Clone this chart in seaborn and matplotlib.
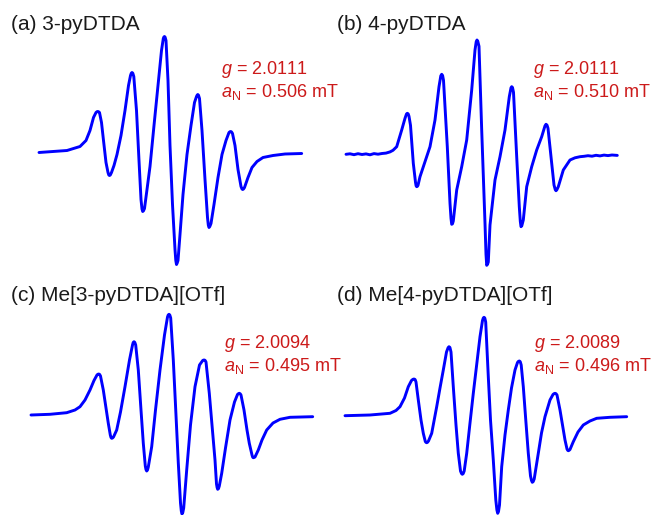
import matplotlib
matplotlib.use("Agg")
import matplotlib.pyplot as plt
import seaborn as sns

# EPR spectra: field offset (a.u.) vs derivative signal (a.u.)
field_a = [-131, -103, -90, -84, -80, -76.5, -74, -73, -72.3, -71.5, -70.5, -68.5, -66.5, -64, -62,
           -61.2, -60.5, -59.7, -58.5, -56, -53, -49, -45, -41.5, -39.5, -38.7, -38, -37.2, -36.2,
           -33.5, -31, -29, -28, -27.3, -26.5, -25.5, -23, -20, -16, -12, -8.5, -6.7, -6.1, -5.5,
           -4.9, -4, -2, 0, 2.5, 5, 5.8, 6.5, 7.2, 8, 10, 13, 17, 21, 24.5, 26.5, 27.2, 27.8, 28.5,
           29.5, 32, 35, 37.5, 38.3, 39, 39.8, 41, 44, 48, 52, 56, 59, 60, 60.7, 61.5, 62.5, 65,
           68, 71, 72, 72.7, 73.5, 74.5, 78, 82, 87, 93, 103, 115, 131.7]
signal_a = [0, 2, 6, 12, 22, 35, 40, 40.8, 41, 40.8, 40, 30, 12, -10, -20,
            -22.5, -23, -22.5, -20, -13, -2, 17, 42, 67, 77, 79.3, 80, 79.3, 76,
            42, -8, -47, -56.5, -59, -58.3, -56, -37, -14, 27, 67, 102, 114, 115.5, 116,
            115.3, 112, 72, 7, -52, -97, -108, -112, -110.5, -108, -82, -42, -2, 27, 50, 56, 57.4, 58, 57.3,
            54, 22, -27, -65, -72.5, -75, -74, -71, -52, -25, -2, 12, 20, 20.8, 21, 20.6, 19, 7,
            -17, -34, -36.5, -37, -36.5, -35, -25, -15, -9, -5, -3, -1.5, -1]

field_b = [-136, -132, -128, -124, -120, -116, -112, -108, -104, -100, -96, -92, -89, -85.3,
           -80.3, -77, -75.5, -74.7, -73.8, -73, -71.5, -68.7, -66.5, -65.9, -65.3, -64.6, -64,
           -62, -57, -52, -47, -43, -41.2, -40.3, -39.4, -38.5, -34.7, -32, -31, -30.3, -29.5,
           -28.7, -25.3, -20.3, -15.3, -10.3, -7, -5.8, -5, -4.2, -3, -0.3, 3, 4, 4.7, 5.5, 6.3,
           8, 13, 18, 23, 27.3, 29, 29.7, 30.5, 31.5, 34.7, 37.3, 38.3, 39, 39.8, 41.3, 44.7,
           49.7, 54.7, 59.7, 63, 64, 65, 66, 69.7, 72, 73.3, 74, 74.8, 76.3, 81.3, 88, 93, 98,
           102, 106, 110, 114, 118, 122, 126, 130, 135.3]
signal_b = [0, 0.5, -0.4, 0.6, -0.2, 0.4, -0.5, 0.7, 0.1, 0.8, 1.2, 2.4, 4, 7.6,
            24.3, 36, 40.3, 41, 40.4, 38, 29, -9, -28, -31.5, -32.4, -32, -31,
            -22.4, -7.4, 7.6, 34.3, 67.6, 78.5, 80, 78.8, 74, 7.6, -49, -64, -70, -69.5,
            -66.7, -35.7, -12.4, 14.3, 64.3, 104.3, 112.5, 114.3, 113, 108, 24.3, -69, -100, -111, -110, -107.7,
            -70.7, -25.7, -2.4, 24.3, 57.6, 66.5, 67.6, 66.8, 62, -2.4, -52.4, -67, -72.4, -71.5, -65.7, -32.4,
            -12.4, 4.3, 17.6, 28.5, 30, 29.2, 26, -9, -30.7, -35.5, -36.4, -35.6, -32.4, -15.7, -5.7, -3.5, -2.4,
            -2.0, -1.4, -1.9, -1.0, -1.6, -0.8, -1.3, -0.7, -1.1]

field_c = [-144, -125, -108.3, -100, -95, -90, -85, -81, -78, -77.2, -76.3, -75.4, -74.5, -71.7,
           -69, -66.7, -64.7, -64, -63.3, -62.5, -61.5, -58.3, -54.5, -50, -45.5, -42.5, -41.8,
           -41, -40.2, -39.3, -36.7, -34, -31.7, -29.7, -29, -28.3, -27.5, -26.7, -23.3, -19.5,
           -15, -10.5, -7.5, -6.8, -6, -5.2, -4.3, -1.7, 0.5, 3.3, 5.5, 6.3, 7, 7.8, 8.7, 11.7,
           15.5, 20, 24.5, 27.7, 28.5, 29.3, 30.1, 31, 34.3, 37, 40, 41.5, 42.1, 42.7, 43.5, 44.3,
           46.7, 50.5, 55, 59.5, 62.5, 63.4, 64.3, 65.2, 66, 69, 72, 74.3, 77, 77.7, 78.3, 79,
           80, 83.3, 87, 91.7, 98, 105, 115, 137.7]
signal_c = [0, 0.7, 2.3, 5, 8.3, 15, 25, 34.5, 40, 40.7, 41, 40.6, 39, 25,
            7, -8.3, -20, -22.5, -23.3, -23, -22, -15, 3, 28.3, 55, 70, 72.5,
            73.3, 72.6, 70, 45, 5, -28.3, -51, -54.6, -56, -55, -52, -31.7, 5,
            45, 80, 98, 100, 100.7, 100, 97, 55, 10, -48, -88, -96, -99, -97.5, -93, -55,
            -10, 28.3, 50, 54.5, 54.9, 55, 54.6, 53, 21.7, -10, -45, -69, -72.5, -74.3, -73.6, -71,
            -58.3, -33, -5, 13, 20.5, 21.3, 21.7, 21.2, 20, 5, -15, -28.3, -40, -42.2, -42.7, -42.5,
            -42, -35, -25, -15, -8, -4.3, -2.3, -1.7]

field_d = [-145, -120, -100, -94, -90, -85.5, -81.7, -78.5, -77.2, -76, -74.9, -74, -71.7, -69,
           -66.7, -64.7, -64, -63.3, -62.5, -61.5, -58.3, -53.3, -50, -46.7, -43.5, -41.9, -41,
           -40.1, -39, -36.7, -34, -31.7, -29.5, -28.5, -27.7, -26.8, -25.8, -23.3, -20, -16.7,
           -13, -10, -7.5, -6.7, -6, -5.2, -4.3, -1.7, 0.5, 3.3, 5.8, 6.9, 7.7, 8.5, 9.5, 11.7,
           15, 18.3, 21.5, 25, 27.5, 28.4, 29.3, 30.2, 31.2, 33.3, 36, 38.3, 40.5, 41.5, 42.3,
           43.2, 44.2, 48.3, 51.5, 55, 60, 63, 64, 65, 66, 67, 70, 73, 75, 77, 77.7, 78.3, 79,
           80, 83.3, 88, 93.3, 100, 106.7, 120, 136.7]
signal_d = [0.3, 1, 2.7, 5.5, 9.3, 18, 29.3, 35.5, 36.6, 37, 36.5, 34, 16, -4,
            -17.3, -25.5, -26.4, -26.7, -26.3, -25, -17.3, 9.3, 28, 46, 64, 68.3, 69.3,
            68.6, 64, 29.3, -9, -37.3, -55, -57.5, -58.3, -57.6, -55, -37.3, -7, 22.7,
            54, 79.3, 95.5, 98, 98.7, 98, 94, 39.3, -4, -44, -84, -94, -97.3, -95.5, -89, -50.7,
            -19, 6, 28, 46, 53.5, 54.6, 55, 54.4, 51, 29.3, -7, -37.3, -60, -64.5, -66.3,
            -65.6, -63, -37.3, -17, -0.7, 16, 21.5, 22.3, 22.7, 22.3, 21, 6, -12, -24, -33, -34.3, -34.7, -34.4,
            -33.5, -25.7, -16, -9, -5, -2.3, -1.3, -0.7]

labels = ["(a) 3-pyDTDA", "(b) 4-pyDTDA", "(c) Me[3-pyDTDA][OTf]", "(d) Me[4-pyDTDA][OTf]"]
g_values = ["2.0111", "2.0111", "2.0094", "2.0089"]
aN_values = ["0.506", "0.510", "0.495", "0.496"]

sns.set_style("white")
plt.rcParams["font.family"] = ["Liberation Sans", "DejaVu Sans"]
plt.rcParams["mathtext.fontset"] = "custom"
plt.rcParams["mathtext.rm"] = "Liberation Sans"
plt.rcParams["mathtext.it"] = "Liberation Sans:italic"

W, H = 660, 515
fig = plt.figure(figsize=(6.6, 5.15), dpi=100)

# panel layout in pixels: spectrum centre, label position, g/aN text position
layout = [
    dict(c=(170, 152.5), lab=(11, 30), txt=(221, 74)),
    dict(c=(482, 154.3), lab=(337, 30), txt=(533, 74)),
    dict(c=(175, 415), lab=(11, 301), txt=(224, 348)),
    dict(c=(490, 416), lab=(337, 301), txt=(534, 348)),
]
fields = [field_a, field_b, field_c, field_d]
signals = [signal_a, signal_b, signal_c, signal_d]

blue = "#0000ff"
red = "#cc1a1a"

for i in range(4):
    cx, by = layout[i]["c"]
    ax = fig.add_axes([(cx - 160) / W, 1 - (by + 150) / H, 320 / W, 300 / H])
    sns.lineplot(x=fields[i], y=signals[i], ax=ax, color=blue, lw=2.1,
                 sort=False, estimator=None, solid_joinstyle="round",
                 solid_capstyle="round")
    ax.set_xlim(-160, 160)
    ax.set_ylim(-150, 150)
    ax.axis("off")
    ax.patch.set_alpha(0)

    lx, ly = layout[i]["lab"]
    fig.text(lx / W, 1 - ly / H, labels[i], fontsize=15, color="#1a1a1a", va="baseline")
    tx, ty = layout[i]["txt"]
    fig.text(tx / W, 1 - ty / H, "$g$ = " + g_values[i], fontsize=13, color=red, va="baseline")
    fig.text(tx / W, 1 - (ty + 23) / H, r"$a_\mathrm{N}$ = " + aN_values[i] + " mT",
             fontsize=13, color=red, va="baseline")

fig.savefig("out.png", dpi=100)
plt.close()
